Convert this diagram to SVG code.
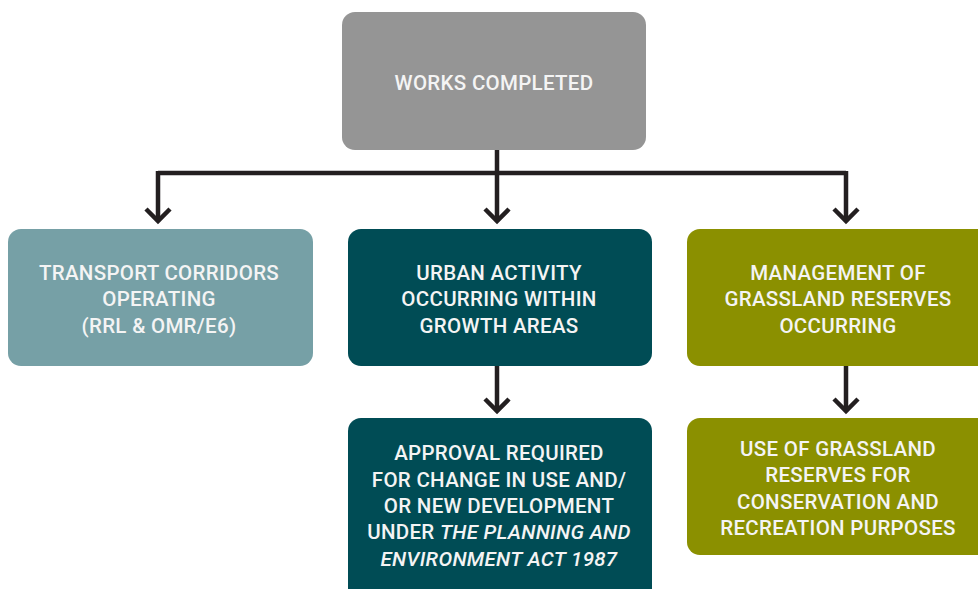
<svg xmlns="http://www.w3.org/2000/svg" width="978" height="589" viewBox="0 0 978 589">
<style>
.t{font-family:Roboto,"Liberation Sans",sans-serif;font-size:20.5px;font-weight:500;fill:#f4f4f4;text-anchor:middle;letter-spacing:0.3px}
.c{fill:none;stroke:#231f20;stroke-width:4.5}
</style>
<rect width="978" height="589" fill="#ffffff"/>
<g id="connectors">
<path class="c" d="M497 150V173M158 173H846M158 171V221M497 173V221M846 171V221M497 366V411M846 366V411"/>
<path class="c" d="M146 209L158 221L170 209M485 209L497 221L509 209M834 209L846 221L858 209M485 399L497 411L509 399M834 399L846 411L858 399"/>
</g>
<g id="works"><rect x="342" y="12" width="304" height="138" rx="13" fill="#959595"/><text class="t" x="494" y="90">WORKS COMPLETED</text></g>
<g id="transport"><rect x="8" y="229" width="305" height="137" rx="13" fill="#76a0a6"/><text class="t" x="159" y="280">TRANSPORT CORRIDORS</text><text class="t" x="159" y="306">OPERATING</text><text class="t" x="159" y="333">(RRL &amp; OMR/E6)</text></g>
<g id="urban"><rect x="348" y="229" width="304" height="137" rx="13" fill="#004c55"/><text class="t" x="499" y="280">URBAN ACTIVITY</text><text class="t" x="499" y="306">OCCURRING WITHIN</text><text class="t" x="499" y="333">GROWTH AREAS</text></g>
<g id="management"><rect x="687" y="229" width="305" height="137" rx="13" fill="#8b9000"/><text class="t" x="838" y="280">MANAGEMENT OF</text><text class="t" x="838" y="306">GRASSLAND RESERVES</text><text class="t" x="838" y="333">OCCURRING</text></g>
<g id="approval"><rect x="348" y="418" width="304" height="190" rx="13" fill="#004c55"/><text class="t" x="499" y="460">APPROVAL REQUIRED</text><text class="t" x="499" y="487">FOR CHANGE IN USE AND/</text><text class="t" x="499" y="513">OR NEW DEVELOPMENT</text><text class="t" x="499" y="539">UNDER <tspan font-style="italic">THE PLANNING AND</tspan></text><text class="t" x="499" y="566" font-style="italic">ENVIRONMENT ACT 1987</text></g>
<g id="use"><rect x="687" y="418" width="305" height="137" rx="13" fill="#8b9000"/><text class="t" x="838" y="456">USE OF GRASSLAND</text><text class="t" x="838" y="482">RESERVES FOR</text><text class="t" x="838" y="509">CONSERVATION AND</text><text class="t" x="838" y="535">RECREATION PURPOSES</text></g>
</svg>
